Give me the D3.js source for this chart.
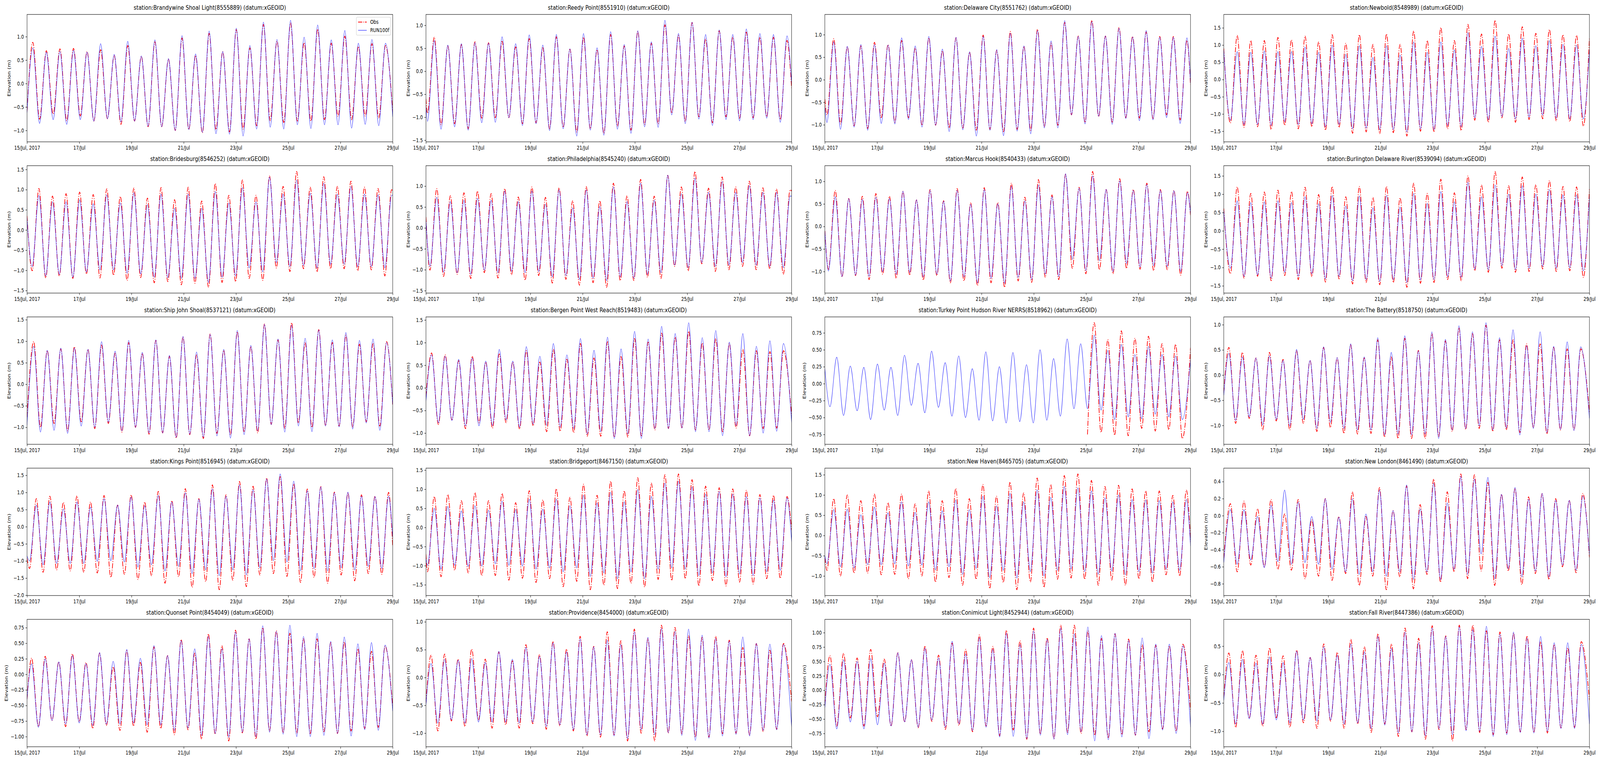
<!DOCTYPE html>
<html>
<head>
<meta charset="utf-8">
<title>station elevations</title>
<script src="https://cdn.jsdelivr.net/npm/d3@7/dist/d3.min.js"></script>
<style>
html, body {
  margin: 0;
  padding: 0;
  overflow: hidden;
  background: #fff;
}
svg {
  display: block;
  font-family: "DejaVu Sans", sans-serif;
}
</style>
</head>
<body>
<div id="chart"></div>
<script>
// stations, in panel order (row by row)
var stationNames = ["Brandywine Shoal Light", "Reedy Point", "Delaware City", "Newbold",
  "Bridesburg", "Philadelphia", "Marcus Hook", "Burlington Delaware River",
  "Ship John Shoal", "Bergen Point West Reach", "Turkey Point Hudson River NERRS", "The Battery",
  "Kings Point", "Bridgeport", "New Haven", "New London",
  "Quonset Point", "Providence", "Conimicut Light", "Fall River"];
var stationIds = ["8555889", "8551910", "8551762", "8548989",
  "8546252", "8545240", "8540433", "8539094",
  "8537121", "8519483", "8518962", "8518750",
  "8516945", "8467150", "8465705", "8461490",
  "8454049", "8454000", "8452944", "8447386"];

// hours after 15 Jul 00:00 of the first and last high/low water
var firstHour = [5.3, 1.4, 1.9, 6.1, 4.7, 3.7, 3.3, 6.1, 6.1, 5.2, 4.7, 4.7, 2.3, 1.4, 1.9, 6.1, 4.2, 4.7, 4.7, 4.7];
var lastHour = [329.4, 331.8, 332.7, 330.4, 335.0, 334.6, 333.2, 330.4, 330.4, 328.5, 328.5, 328.0, 332.2, 331.8, 332.2, 329.9, 329.0, 328.5, 329.0, 328.5];
var tickStep = [0.5, 0.5, 0.5, 0.5, 0.5, 0.5, 0.5, 0.5, 0.5, 0.5, 0.25, 0.5, 0.5, 0.5, 0.5, 0.2, 0.25, 0.5, 0.25, 0.5];

// elevation (m): value at the start, every high/low water, value at the end
var obsBrandywine = [-0.60, 0.88,-0.76, 0.70,-0.65, 0.74,-0.79, 0.75,-0.69, 0.68,-0.80, 0.72,-0.75, 0.60,-0.87, 0.81,-0.80, 0.58,-0.92, 0.89,-0.92, 0.52,-1.00, 0.97,-0.98, 0.60,-1.05, 1.07,-0.98, 0.68,-1.03, 1.15,-0.97, 0.76,-0.90, 1.26,-0.79, 0.90,-0.83, 1.29,-0.80, 0.87,-0.80, 1.16,-0.77, 0.86,-0.70, 1.01,-0.77, 0.79,-0.69, 0.85,-0.73, 0.81, -0.60];
var runBrandywine = [-0.62, 0.76,-0.85, 0.67,-0.77, 0.69,-0.87, 0.71,-0.77, 0.67,-0.80, 0.85,-0.75, 0.62,-0.82, 0.90,-0.80, 0.59,-0.91, 0.93,-0.92, 0.53,-1.00, 1.02,-0.98, 0.63,-1.04, 1.12,-1.07, 0.68,-1.08, 1.18,-1.12, 0.81,-0.97, 1.31,-0.93, 0.94,-0.97, 1.35,-0.88, 0.99,-0.96, 1.25,-0.88, 0.93,-0.88, 1.13,-0.95, 0.86,-0.87, 0.94,-0.90, 0.86, -0.71];
var obsReedy = [-0.60, -0.91,0.74, -1.16,0.55, -1.14,0.58, -1.25,0.64, -1.02,0.62, -1.01,0.65, -1.01,0.53, -1.14,0.71, -1.12,0.51, -1.25,0.75, -1.22,0.48, -1.32,0.74, -1.25,0.47, -1.35,0.80, -1.19,0.55, -1.28,0.87, -1.16,0.61, -1.14,1.01, -0.91,0.78, -1.09,1.06, -0.99,0.70, -1.12,0.88, -0.99,0.74, -1.02,0.85, -1.01,0.74, -0.99,0.74, -1.05,0.67, -0.37];
var runReedy = [-0.75, -1.09,0.67, -1.26,0.57, -1.21,0.60, -1.28,0.62, -1.12,0.61, -1.11,0.75, -1.01,0.60, -1.18,0.79, -1.14,0.57, -1.29,0.80, -1.25,0.49, -1.41,0.82, -1.28,0.51, -1.39,0.86, -1.26,0.58, -1.35,0.88, -1.21,0.64, -1.22,1.11, -0.95,0.82, -1.14,1.07, -1.04,0.80, -1.18,0.90, -1.05,0.80, -1.08,0.92, -1.05,0.82, -1.02,0.80, -1.11,0.77, -0.28];
var obsDelaware = [-0.43, -0.78,0.91, -0.98,0.73, -1.02,0.75, -1.08,0.83, -0.84,0.78, -0.94,0.87, -0.84,0.70, -1.01,0.93, -1.01,0.64, -1.07,0.93, -1.07,0.61, -1.12,0.99, -1.10,0.65, -1.15,1.07, -1.10,0.74, -1.12,1.12, -1.04,0.81, -1.01,1.27, -0.78,0.97, -0.95,1.32, -0.82,0.97, -0.94,1.16, -0.84,0.96, -0.85,1.06, -0.86,0.96, -0.78,0.96, -0.89,0.87, -0.11];
var runDelaware = [-0.60, -0.95,0.84, -1.10,0.74, -1.05,0.78, -1.12,0.78, -0.97,0.77, -0.98,0.93, -0.88,0.75, -1.05,0.96, -1.01,0.68, -1.15,0.94, -1.11,0.62, -1.25,0.96, -1.12,0.67, -1.24,1.03, -1.14,0.75, -1.20,1.09, -1.07,0.86, -1.07,1.31, -0.78,0.96, -0.98,1.29, -0.81,0.97, -0.99,1.14, -0.86,0.95, -0.91,1.09, -0.89,0.94, -0.84,0.94, -0.97,0.93, -0.08];
var obsNewbold = [0.90, -1.26,1.28, -1.39,1.13, -1.37,1.13, -1.45,1.22, -1.33,1.15, -1.43,1.26, -1.37,1.09, -1.47,1.30, -1.39,1.05, -1.56,1.30, -1.52,1.02, -1.57,1.32, -1.54,1.02, -1.64,1.41, -1.50,1.13, -1.52,1.51, -1.43,1.13, -1.48,1.60, -1.18,1.32, -1.24,1.72, -1.11,1.32, -1.24,1.53, -1.16,1.34, -1.14,1.45, -1.20,1.30, -1.22,1.28, -1.35, 1.20];
var runNewbold = [0.85, -1.18,0.81, -1.30,0.79, -1.30,0.83, -1.33,0.81, -1.22,0.81, -1.31,0.94, -1.28,0.79, -1.37,1.00, -1.30,0.73, -1.43,0.98, -1.41,0.64, -1.45,0.98, -1.45,0.71, -1.52,1.09, -1.43,0.79, -1.45,1.09, -1.33,0.86, -1.37,1.36, -1.11,0.96, -1.16,1.26, -1.07,0.90, -1.14,1.20, -1.09,0.98, -1.03,1.13, -1.12,1.02, -1.14,1.00, -1.14, 0.85];
var obsBridesburg = [0.35, -1.01,1.03, -1.19,0.84, -1.14,0.90, -1.20,0.94, -1.09,0.88, -1.19,1.02, -1.12,0.83, -1.25,1.04, -1.18,0.79, -1.31,1.05, -1.28,0.75, -1.36,1.06, -1.32,0.72, -1.42,1.15, -1.30,0.86, -1.28,1.24, -1.20,0.86, -1.25,1.34, -0.94,1.08, -1.03,1.45, -0.96,1.06, -1.04,1.32, -0.96,1.08, -0.96,1.21, -1.01,1.06, -0.99,1.03, -1.14,1.00, 0.95];
var runBridesburg = [0.30, -0.91,0.86, -1.14,0.70, -1.10,0.70, -1.17,0.75, -1.04,0.65, -0.99,0.87, -0.99,0.67, -1.07,0.92, -1.09,0.63, -1.17,0.89, -1.18,0.54, -1.20,0.89, -1.20,0.54, -1.30,0.95, -1.17,0.67, -1.14,1.05, -0.94,0.70, -1.04,1.31, -0.81,0.89, -0.91,1.24, -0.88,0.91, -0.94,1.16, -0.85,0.89, -0.85,1.08, -0.91,0.89, -0.91,0.87, -0.94,0.86, 0.86];
var obsPhiladelphia = [0.26, -1.01,0.94, -1.16,0.77, -1.11,0.84, -1.21,0.88, -1.07,0.82, -1.20,0.94, -1.12,0.74, -1.25,0.98, -1.14,0.73, -1.32,0.96, -1.23,0.65, -1.37,0.99, -1.31,0.65, -1.42,1.07, -1.26,0.77, -1.26,1.16, -1.18,0.76, -1.21,1.26, -0.92,0.98, -1.03,1.35, -0.86,0.95, -1.04,1.22, -1.00,0.98, -0.92,1.12, -1.00,0.96, -0.98,0.93, -1.11,0.91, 0.88];
var runPhiladelphia = [0.20, -0.92,0.73, -1.06,0.63, -1.07,0.66, -1.11,0.71, -1.01,0.66, -1.07,0.88, -1.04,0.63, -1.07,0.88, -1.04,0.57, -1.17,0.91, -1.14,0.48, -1.23,0.91, -1.20,0.51, -1.26,0.98, -1.17,0.63, -1.20,1.07, -1.11,0.66, -1.07,1.26, -0.89,0.82, -0.95,1.19, -0.83,0.85, -0.92,1.11, -0.89,0.85, -0.83,1.01, -0.89,0.85, -0.92,0.85, -0.95,0.76, 0.76];
var obsMarcusHook = [-0.10, -0.95,0.80, -1.12,0.62, -1.09,0.67, -1.18,0.73, -1.06,0.67, -1.15,0.78, -1.08,0.59, -1.19,0.82, -1.09,0.57, -1.25,0.84, -1.21,0.52, -1.31,0.86, -1.25,0.53, -1.35,0.96, -1.21,0.65, -1.24,1.04, -1.13,0.70, -1.18,1.16, -0.93,0.87, -1.05,1.22, -0.96,0.82, -1.05,1.06, -0.93,0.82, -0.95,0.96, -0.98,0.82, -0.96,0.80, -1.08,0.78, 0.25];
var runMarcusHook = [-0.10, -0.99,0.66, -1.11,0.62, -1.08,0.60, -1.11,0.65, -1.00,0.62, -1.06,0.78, -1.02,0.59, -1.12,0.80, -1.06,0.56, -1.21,0.80, -1.12,0.49, -1.25,0.82, -1.15,0.50, -1.26,0.89, -1.13,0.57, -1.18,0.92, -1.06,0.66, -1.11,1.17, -0.73,0.85, -0.98,1.12, -0.76,0.82, -1.00,1.01, -0.82,0.80, -0.90,0.93, -0.87,0.80, -0.89,0.79, -1.00,0.75, 0.28];
var obsBurlington = [0.61, -1.17,1.20, -1.29,1.02, -1.24,1.06, -1.36,1.11, -1.22,1.07, -1.33,1.19, -1.25,0.99, -1.40,1.21, -1.31,0.93, -1.45,1.21, -1.41,0.91, -1.47,1.21, -1.41,0.90, -1.54,1.30, -1.43,1.02, -1.41,1.41, -1.33,1.04, -1.36,1.50, -1.09,1.25, -1.13,1.62, -1.02,1.23, -1.13,1.47, -1.11,1.26, -1.04,1.37, -1.11,1.21, -1.09,1.20, -1.27, 1.14];
var runBurlington = [0.55, -1.02,0.82, -1.24,0.77, -1.20,0.79, -1.29,0.82, -1.13,0.77, -1.24,0.93, -1.17,0.74, -1.31,0.97, -1.24,0.68, -1.36,0.95, -1.33,0.63, -1.38,0.97, -1.33,0.65, -1.41,1.02, -1.34,0.75, -1.33,1.07, -1.25,0.79, -1.27,1.32, -1.04,0.93, -1.06,1.25, -0.95,1.00, -1.06,1.23, -1.02,1.00, -0.97,1.13, -1.02,0.98, -1.01,0.98, -1.09, 0.93];
var obsShipJohn = [-0.76, 0.99,-1.00, 0.78,-0.91, 0.82,-1.08, 0.87,-0.87, 0.81,-1.03, 0.91,-0.91, 0.72,-1.11, 0.97,-1.00, 0.72,-1.16, 1.02,-1.13, 0.65,-1.25, 1.10,-1.17, 0.68,-1.26, 1.17,-1.14, 0.79,-1.17, 1.22,-1.11, 0.88,-1.13, 1.40,-0.93, 1.03,-1.02, 1.43,-0.90, 0.96,-1.00, 1.27,-0.96, 0.97,-0.97, 1.14,-0.99, 0.93,-0.87, 0.94,-0.97, 0.99, -0.47];
var runShipJohn = [-0.95, 0.88,-1.11, 0.79,-1.07, 0.84,-1.14, 0.84,-0.97, 0.81,-1.00, 0.99,-0.88, 0.77,-1.08, 1.02,-1.00, 0.74,-1.13, 1.03,-1.13, 0.67,-1.23, 1.11,-1.16, 0.75,-1.23, 1.16,-1.20, 0.81,-1.25, 1.25,-1.17, 0.90,-1.08, 1.39,-0.94, 1.05,-1.11, 1.37,-0.97, 1.07,-1.10, 1.26,-0.97, 1.03,-0.99, 1.20,-1.04, 1.02,-0.90, 1.05,-1.07, 0.97, -0.47];
var obsBergen = [-0.19, 0.77,-0.81, 0.73,-0.71, 0.60,-0.90, 0.70,-0.77, 0.57,-0.89, 0.75,-0.77, 0.57,-0.91, 0.82,-0.84, 0.57,-0.97, 0.85,-0.96, 0.63,-0.99, 0.98,-1.07, 0.66,-1.07, 1.02,-1.09, 0.69,-1.09, 1.09,-1.06, 1.01,-0.93, 1.21,-0.90, 1.12,-0.89, 1.25,-0.93, 0.99,-0.93, 1.09,-0.97, 0.98,-0.89, 0.85,-1.06, 0.82,-0.90, 0.80,-0.89, 0.82, -0.62];
var runBergen = [-0.30, 0.73,-0.77, 0.70,-0.72, 0.63,-0.84, 0.66,-0.84, 0.59,-0.83, 0.85,-0.71, 0.59,-0.87, 0.91,-0.80, 0.70,-0.83, 0.98,-0.87, 0.73,-0.90, 1.09,-1.02, 0.83,-0.97, 1.12,-1.12, 0.86,-1.02, 1.25,-1.12, 1.08,-0.90, 1.36,-0.90, 1.20,-0.89, 1.44,-0.97, 1.11,-0.97, 1.27,-1.06, 1.01,-0.83, 1.20,-1.06, 0.92,-1.00, 1.04,-0.96, 0.98, -0.77];
// Turkey Point has no observations before 25 Jul
var obsTurkeyPoint = [null, null,null, null,null, null,null, null,null, null,null, null,null, null,null, null,null, null,null, null,null, null,null, null,null, null,null, null,null, null,null, null,null, null,null, null,null, null,null, -0.75,0.90, -0.72,0.65, -0.76,0.78, -0.77,0.67, -0.66,0.70, -0.70,0.59, -0.68,0.58, -0.81, 0.53];
var runTurkeyPoint = [0.22, -0.34,0.39, -0.47,0.26, -0.40,0.24, -0.53,0.29, -0.39,0.24, -0.47,0.42, -0.32,0.30, -0.43,0.48, -0.35,0.31, -0.48,0.41, -0.50,0.22, -0.54,0.47, -0.55,0.25, -0.58,0.46, -0.56,0.28, -0.58,0.50, -0.54,0.37, -0.48,0.66, -0.37,0.59, -0.37,0.72, -0.39,0.49, -0.53,0.58, -0.49,0.43, -0.52,0.55, -0.45,0.43, -0.49,0.41, -0.53, 0.35];
var obsBattery = [-0.35, 0.55,-0.96, 0.45,-0.86, 0.34,-1.09, 0.45,-0.91, 0.31,-1.09, 0.48,-0.96, 0.29,-1.12, 0.55,-1.04, 0.34,-1.16, 0.60,-1.17, 0.34,-1.16, 0.70,-1.23, 0.36,-1.26, 0.73,-1.26, 0.49,-1.26, 0.82,-1.22, 0.68,-1.12, 0.94,-1.08, 0.82,-1.06, 0.99,-1.12, 0.70,-1.09, 0.70,-1.14, 0.62,-1.04, 0.62,-1.17, 0.55,-1.09, 0.52,-1.09, 0.52, -0.73];
var runBattery = [-0.40, 0.43,-0.90, 0.36,-0.83, 0.34,-0.99, 0.38,-0.88, 0.29,-1.01, 0.51,-0.88, 0.29,-1.06, 0.56,-0.94, 0.35,-1.06, 0.62,-1.09, 0.36,-1.09, 0.74,-1.19, 0.45,-1.17, 0.78,-1.19, 0.48,-1.17, 0.86,-1.26, 0.71,-1.09, 0.98,-1.06, 0.86,-1.01, 1.04,-1.09, 0.74,-1.05, 0.90,-1.19, 0.58,-1.06, 0.86,-1.14, 0.57,-1.08, 0.66,-1.10, 0.56, -0.86];
var obsKingsPoint = [-0.92, -1.22,0.82, -1.33,0.89, -1.26,0.71, -1.29,0.90, -1.33,0.72, -1.35,0.91, -1.48,0.63, -1.39,0.93, -1.54,0.72, -1.43,1.03, -1.65,0.76, -1.46,1.11, -1.77,0.82, -1.60,1.22, -1.84,0.93, -1.56,1.32, -1.75,1.18, -1.41,1.42, -1.37,1.46, -1.45,1.25, -1.63,1.10, -1.48,1.17, -1.65,1.01, -1.41,0.99, -1.58,0.93, -1.37,0.89, -1.39,1.00, -0.58];
var runKingsPoint = [-0.85, -1.00,0.63, -1.11,0.72, -1.07,0.52, -1.07,0.72, -1.07,0.57, -1.01,0.82, -0.99,0.63, -1.03,0.86, -1.18,0.61, -1.11,0.91, -1.29,0.72, -1.16,0.99, -1.37,0.80, -1.26,1.10, -1.43,0.89, -1.26,1.22, -1.41,1.08, -1.20,1.39, -0.99,1.54, -1.03,1.33, -1.29,1.05, -1.22,1.16, -1.29,0.99, -1.20,1.01, -1.26,0.89, -1.16,0.88, -1.22,0.89, -0.31];
var obsBridgeport = [-0.70, -1.16,0.81, -1.29,0.86, -1.12,0.70, -1.19,0.91, -1.26,0.70, -1.26,0.89, -1.38,0.65, -1.33,0.96, -1.44,0.72, -1.34,1.01, -1.55,0.79, -1.41,1.13, -1.63,0.84, -1.51,1.21, -1.60,0.96, -1.46,1.30, -1.56,1.16, -1.36,1.38, -1.39,1.40, -1.34,1.25, -1.53,1.08, -1.39,1.04, -1.53,1.01, -1.43,0.97, -1.48,0.86, -1.34,0.84, -1.33,0.81, -0.07];
var runBridgeport = [-0.80, -0.99,0.50, -1.09,0.55, -0.99,0.43, -1.02,0.57, -1.01,0.45, -0.95,0.69, -0.99,0.47, -1.01,0.74, -1.09,0.48, -1.06,0.74, -1.16,0.57, -1.06,0.84, -1.28,0.64, -1.19,0.92, -1.34,0.67, -1.16,0.99, -1.34,0.81, -1.09,1.16, -1.06,1.21, -1.09,1.06, -1.26,0.87, -1.19,0.94, -1.29,0.87, -1.22,0.81, -1.26,0.77, -1.16,0.72, -1.12,0.77, -0.38];
var obsNewHaven = [-0.55, -0.86,0.91, -1.00,1.00, -0.93,0.86, -0.93,1.02, -0.97,0.81, -0.96,1.02, -1.07,0.78, -1.00,1.10, -1.15,0.86, -1.04,1.16, -1.23,0.91, -1.08,1.26, -1.31,0.97, -1.16,1.32, -1.34,1.05, -1.15,1.42, -1.28,1.26, -1.08,1.48, -1.05,1.52, -1.08,1.36, -1.23,1.21, -1.10,1.24, -1.23,1.15, -1.07,1.10, -1.15,1.10, -0.97,0.99, -1.00,1.12, -0.16];
var runNewHaven = [-0.50, -0.70,0.64, -0.77,0.65, -0.80,0.51, -0.72,0.70, -0.72,0.56, -0.70,0.83, -0.75,0.57, -0.73,0.83, -0.85,0.61, -0.77,0.88, -0.96,0.64, -0.81,0.97, -1.04,0.73, -0.86,1.04, -1.05,0.83, -0.89,1.13, -1.00,0.94, -0.86,1.21, -0.83,1.18, -0.89,1.10, -0.96,0.93, -0.88,1.00, -0.97,0.89, -0.89,0.88, -0.93,0.86, -0.83,0.83, -0.86,0.89, -0.26];
var obsNewLondon = [-0.50, 0.14,-0.66, 0.17,-0.58, 0.08,-0.60, 0.19,-0.63, 0.02,-0.64, 0.19,-0.74, -0.05,-0.71, 0.20,-0.76, -0.01,-0.68, 0.28,-0.82, -0.01,-0.71, 0.33,-0.87, 0.06,-0.72, 0.35,-0.86, 0.13,-0.69, 0.43,-0.78, 0.28,-0.66, 0.49,-0.74, 0.48,-0.65, 0.39,-0.82, 0.25,-0.65, 0.32,-0.81, 0.22,-0.68, 0.26,-0.75, 0.20,-0.60, 0.18,-0.67, 0.26, -0.49];
var runNewLondon = [-0.55, 0.07,-0.57, 0.07,-0.52, -0.01,-0.61, 0.12,-0.54, 0.30,-0.57, 0.16,-0.55, -0.01,-0.57, 0.20,-0.63, -0.02,-0.66, 0.20,-0.69, 0.02,-0.66, 0.30,-0.71, 0.06,-0.66, 0.36,-0.75, 0.08,-0.66, 0.38,-0.75, 0.15,-0.63, 0.46,-0.69, 0.43,-0.45, 0.45,-0.74, 0.25,-0.62, 0.33,-0.72, 0.19,-0.65, 0.26,-0.72, 0.18,-0.58, 0.18,-0.64, 0.23, -0.46];
var obsQuonset = [-0.40, 0.26,-0.84, 0.29,-0.74, 0.20,-0.84, 0.33,-0.76, 0.19,-0.87, 0.34,-0.82, 0.12,-0.90, 0.38,-0.83, 0.19,-0.93, 0.44,-0.87, 0.30,-0.97, 0.56,-0.89, 0.34,-1.04, 0.65,-0.96, 0.46,-1.07, 0.71,-0.94, 0.57,-1.04, 0.75,-0.91, 0.70,-0.94, 0.66,-0.94, 0.57,-0.95, 0.57,-0.92, 0.51,-0.95, 0.52,-0.91, 0.41,-0.87, 0.37,-0.85, 0.45, -0.52];
var runQuonset = [-0.40, 0.17,-0.85, 0.25,-0.74, 0.20,-0.80, 0.30,-0.78, 0.17,-0.82, 0.35,-0.80, 0.21,-0.80, 0.40,-0.78, 0.26,-0.81, 0.46,-0.81, 0.30,-0.90, 0.54,-0.86, 0.41,-0.98, 0.61,-0.95, 0.41,-1.01, 0.68,-0.93, 0.57,-1.00, 0.78,-0.93, 0.69,-0.96, 0.79,-1.00, 0.61,-1.00, 0.66,-0.98, 0.53,-0.95, 0.60,-0.99, 0.49,-0.89, 0.51,-0.90, 0.47, -0.59];
var obsProvidence = [-0.45, 0.40,-0.96, 0.42,-0.78, 0.33,-0.88, 0.51,-0.76, 0.33,-0.91, 0.46,-0.85, 0.30,-0.91, 0.59,-0.83, 0.41,-0.93, 0.65,-0.87, 0.51,-0.96, 0.74,-1.05, 0.56,-1.07, 0.82,-1.03, 0.66,-1.14, 0.87,-1.00, 0.70,-1.14, 0.94,-1.00, 0.90,-1.01, 0.75,-1.07, 0.72,-1.07, 0.74,-1.01, 0.67,-1.00, 0.54,-1.03, 0.61,-0.97, 0.49,-0.93, 0.61, -0.43];
var runProvidence = [-0.50, 0.25,-0.82, 0.33,-0.76, 0.31,-0.82, 0.34,-0.80, 0.27,-0.80, 0.47,-0.80, 0.33,-0.82, 0.54,-0.80, 0.38,-0.88, 0.62,-0.85, 0.46,-0.94, 0.69,-1.03, 0.55,-1.03, 0.67,-1.05, 0.59,-1.10, 0.82,-0.94, 0.72,-1.03, 0.88,-0.99, 0.83,-1.04, 0.87,-1.13, 0.76,-1.09, 0.70,-1.05, 0.65,-1.02, 0.73,-1.05, 0.61,-0.95, 0.60,-0.94, 0.59, -0.89];
var obsConimicut = [-0.25, 0.60,-0.62, 0.64,-0.48, 0.56,-0.62, 0.71,-0.46, 0.54,-0.62, 0.65,-0.55, 0.53,-0.65, 0.77,-0.54, 0.61,-0.68, 0.82,-0.61, 0.71,-0.72, 0.96,-0.62, 0.76,-0.79, 1.04,-0.69, 0.86,-0.85, 1.08,-0.76, 0.91,-0.84, 1.13,-0.73, 1.13,-0.75, 1.03,-0.78, 0.90,-0.83, 0.98,-0.77, 0.89,-0.78, 0.79,-0.72, 0.78,-0.67, 0.77,-0.71, 0.80, -0.37];
var runConimicut = [-0.30, 0.45,-0.67, 0.53,-0.55, 0.50,-0.67, 0.55,-0.60, 0.47,-0.62, 0.65,-0.55, 0.53,-0.64, 0.73,-0.52, 0.56,-0.64, 0.85,-0.58, 0.63,-0.70, 0.91,-0.64, 0.71,-0.81, 0.99,-0.80, 0.79,-0.84, 1.03,-0.78, 0.88,-0.85, 1.08,-0.77, 0.98,-0.72, 1.10,-0.88, 0.95,-0.86, 0.99,-0.81, 0.86,-0.78, 0.91,-0.84, 0.80,-0.69, 0.80,-0.75, 0.77, -0.64];
var obsFallRiver = [-0.40, 0.38,-0.93, 0.42,-0.77, 0.34,-0.91, 0.47,-0.76, 0.33,-0.93, 0.43,-0.85, 0.30,-0.95, 0.54,-0.82, 0.39,-0.95, 0.62,-0.87, 0.49,-1.02, 0.72,-0.87, 0.54,-1.09, 0.82,-1.01, 0.64,-1.14, 0.86,-0.97, 0.68,-1.17, 0.87,-0.97, 0.87,-1.02, 0.77,-1.06, 0.75,-1.03, 0.73,-1.01, 0.68,-1.02, 0.58,-1.03, 0.53,-0.94, 0.47,-0.93, 0.58, -0.45];
var runFallRiver = [-0.45, 0.21,-0.87, 0.27,-0.78, 0.20,-0.87, 0.31,-0.80, 0.21,-0.85, 0.41,-0.80, 0.30,-0.82, 0.49,-0.80, 0.34,-0.87, 0.54,-0.85, 0.40,-0.95, 0.67,-0.89, 0.46,-1.03, 0.75,-1.01, 0.56,-1.08, 0.82,-0.95, 0.67,-1.06, 0.84,-0.99, 0.79,-1.00, 0.85,-1.09, 0.71,-1.06, 0.75,-1.02, 0.64,-1.03, 0.67,-1.00, 0.56,-0.95, 0.56,-0.95, 0.53, -0.87];

var obsLevels = [obsBrandywine, obsReedy, obsDelaware, obsNewbold,
  obsBridesburg, obsPhiladelphia, obsMarcusHook, obsBurlington,
  obsShipJohn, obsBergen, obsTurkeyPoint, obsBattery,
  obsKingsPoint, obsBridgeport, obsNewHaven, obsNewLondon,
  obsQuonset, obsProvidence, obsConimicut, obsFallRiver];
var runLevels = [runBrandywine, runReedy, runDelaware, runNewbold,
  runBridesburg, runPhiladelphia, runMarcusHook, runBurlington,
  runShipJohn, runBergen, runTurkeyPoint, runBattery,
  runKingsPoint, runBridgeport, runNewHaven, runNewLondon,
  runQuonset, runProvidence, runConimicut, runFallRiver];

var width = 5150, height = 1950;
var axLeft = 87, colGap = 1284, axTop = 37, rowGap = 387,
    axW = 1177, axH = 326;
var tickLen = 4.9, tickPad = 4.9, fs = 13.9;
var runColor = "#1f1fff";

var start = new Date(Date.UTC(2017, 6, 15));
var spanHours = 336;
function atHour(h) { return new Date(start.getTime() + h * 3600e3); }

var x = d3.scaleUtc()
    .domain([start, atHour(spanHours)])
    .range([0, axW]);
var xTicks = d3.utcDay.every(2).range(start, atHour(spanHours + 1));
var fmtFirst = d3.utcFormat("%d/%b, %Y"), fmtDay = d3.utcFormat("%d/%b");

// pair each level with its time
function toPoints(levels, tFirst, tLast) {
  var n = levels.length - 2;
  return levels.map(function(v, k) {
    var h;
    if (k === 0) h = 0;
    else if (k === n + 1) h = spanHours;
    else h = tFirst + (k - 1) * (tLast - tFirst) / (n - 1);
    return {date: atHour(h), v: v};
  });
}

function decimalsOf(step) {
  var d = 0;
  while (Math.abs(Math.round(step * Math.pow(10, d)) - step * Math.pow(10, d)) > 1e-9) d++;
  return Math.max(d, 1);
}

// the 5150x1950 drawing is stretched over the whole window, whatever its css size
var pageW = window.innerWidth || document.documentElement.clientWidth || width;
var pageH = window.innerHeight || document.documentElement.clientHeight || pageW * height / width;
var svg = d3.select("#chart").append("svg")
    .attr("viewBox", "0 0 " + width + " " + height)
    .attr("preserveAspectRatio", "none")
    .attr("width", pageW)
    .attr("height", pageH);

svg.append("rect").attr("width", width).attr("height", height).attr("fill", "#fff");

stationNames.forEach(function(name, i) {
  var g = svg.append("g")
      .attr("transform", "translate(" + (axLeft + (i % 4) * colGap) + "," + (axTop + Math.floor(i / 4) * rowGap) + ")");

  var obs = toPoints(obsLevels[i], firstHour[i], lastHour[i]);
  var run = toPoints(runLevels[i], firstHour[i], lastHour[i]);
  var vals = obs.concat(run).map(function(d) { return d.v; }).filter(function(v) { return v != null; });
  var lo = d3.min(vals), hi = d3.max(vals), pad = (hi - lo) * 0.05;
  var y = d3.scaleLinear().domain([lo - pad, hi + pad]).range([axH, 0]);

  g.append("clipPath").attr("id", "clip" + i)
    .append("rect").attr("width", axW).attr("height", axH);

  var line = d3.line()
      .defined(function(d) { return d.v != null; })
      .x(function(d) { return x(d.date); })
      .y(function(d) { return y(d.v); })
      .curve(d3.curveMonotoneX);

  var plot = g.append("g").attr("clip-path", "url(#clip" + i + ")");
  plot.append("path")
      .datum(obs)
      .attr("d", line)
      .attr("fill", "none")
      .attr("stroke", "#ff0000")
      .attr("stroke-width", 2.1)
      .attr("stroke-dasharray", "13.3,3.3,2.1,3.3");
  plot.append("path")
      .datum(run)
      .attr("d", line)
      .attr("fill", "none")
      .attr("stroke", runColor)
      .attr("stroke-width", 1.2);

  // y ticks at a fixed step, as the original panels show
  var step = tickStep[i];
  var d0 = y.domain()[0], d1 = y.domain()[1];
  var tol = 0.5 * (d1 - d0) / axH;
  var yTicks = d3.range(Math.ceil((d0 - tol) / step), Math.floor((d1 + tol) / step) + 1)
      .map(function(k) { return +(k * step).toFixed(6); });

  var ya = g.append("g")
      .call(d3.axisLeft(y)
        .tickValues(yTicks)
        .tickFormat(d3.format("." + decimalsOf(step) + "f"))
        .tickSizeInner(tickLen).tickSizeOuter(0).tickPadding(tickPad));
  ya.select(".domain").remove();
  ya.attr("font-size", fs).attr("font-family", null);
  ya.selectAll("line").attr("stroke-width", 1.1);

  var xa = g.append("g")
      .attr("transform", "translate(0," + axH + ")")
      .call(d3.axisBottom(x)
        .tickValues(xTicks)
        .tickFormat(function(d, k) { return k === 0 ? fmtFirst(d) : fmtDay(d); })
        .tickSizeInner(tickLen).tickSizeOuter(0).tickPadding(tickPad));
  xa.select(".domain").remove();
  xa.attr("font-size", fs).attr("font-family", null);
  xa.selectAll("line").attr("stroke-width", 1.1);

  g.append("rect")
      .attr("width", axW)
      .attr("height", axH)
      .attr("fill", "none")
      .attr("stroke", "#000")
      .attr("stroke-width", 1.1);

  g.append("text")
      .attr("x", axW / 2)
      .attr("y", -12)
      .attr("text-anchor", "middle")
      .attr("font-size", 16.7)
      .text("station:" + name + "(" + stationIds[i] + ") (datum:xGEOID)");

  var maxW = d3.max(ya.selectAll("text").nodes(), function(n) { return n.getComputedTextLength(); });
  var lx = -(tickLen + tickPad + maxW + 5.6 + 3.3);
  g.append("text")
      .attr("transform", "translate(" + lx + "," + (axH / 2) + ") rotate(-90)")
      .attr("text-anchor", "middle")
      .attr("font-size", fs)
      .text("Elevation (m)");

  if (i === 0) {
    var lw = 110, lh = 46;
    var lg = g.append("g").attr("transform", "translate(" + (axW - 7 - lw) + ",7)");
    lg.append("rect")
        .attr("width", lw).attr("height", lh)
        .attr("rx", 2.8)
        .attr("fill", "#fff").attr("fill-opacity", 0.8)
        .attr("stroke", "#cccccc").attr("stroke-width", 1.1);
    var items = [
      {label: "Obs", color: "#ff0000", w: 2.1, dash: "13.3,3.3,2.1,3.3"},
      {label: "RUN100f", color: runColor, w: 1.2, dash: null}
    ];
    items.forEach(function(it, k) {
      var cy = 12.5 + k * 21;
      lg.append("line")
          .attr("x1", 5.6).attr("x2", 33.4)
          .attr("y1", cy).attr("y2", cy)
          .attr("stroke", it.color)
          .attr("stroke-width", it.w)
          .attr("stroke-dasharray", it.dash);
      lg.append("text")
          .attr("x", 44.5).attr("y", cy)
          .attr("dy", "0.35em")
          .attr("font-size", fs)
          .text(it.label);
    });
  }
});
</script>
</body>
</html>
